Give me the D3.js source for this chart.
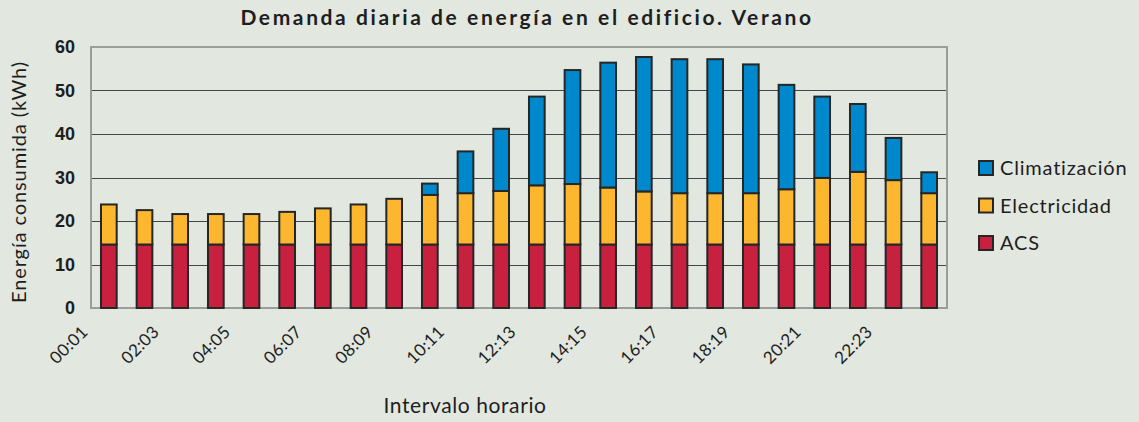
<!DOCTYPE html>
<html>
<head>
<meta charset="utf-8">
<script src="https://cdn.jsdelivr.net/npm/d3@7"></script>
<style>
  html, body { margin: 0; padding: 0; background: #E2E7E0; }
  svg { display: block; }
</style>
</head>
<body>
<div id="chart"></div>
<script>
//Datos del gráfico
const intervals = ['00:01','01:02','02:03','03:04','04:05','05:06','06:07','07:08','08:09','09:10','10:11','11:12',
    '12:13','13:14','14:15','15:16','16:17','17:18','18:19','19:20','20:21','21:22','22:23','23:24'];

const acs = [14.6,14.6,14.6,14.6,14.6,14.6,14.6,14.6,14.6,14.6,14.6,14.6,
    14.6,14.6,14.6,14.6,14.6,14.6,14.6,14.6,14.6,14.6,14.6,14.6];

const electricidad = [9.2,7.9,7.0,7.0,7.0,7.5,8.3,9.2,10.5,11.4,11.8,12.3,
    13.6,13.9,13.1,12.2,11.8,11.8,11.8,12.7,15.3,16.7,14.8,11.8];

const climatizacion = [0,0,0,0,0,0,0,0,0,2.6,9.6,14.3,
    20.4,26.2,28.7,30.9,30.8,30.8,29.6,24.0,18.7,15.6,9.7,4.8];

const yTicks = [0,10,20,30,40,50,60];

const seriesNames = ['ACS','Electricidad','Climatización'];
const legendOrder = ['Climatización','Electricidad','ACS'];

//Colores fijos
const COLOR_ACS = '#C8213F',
COLOR_ELEC = '#FDB72F',
COLOR_CLIMA = '#0088CC',
COLOR_STROKE = '#262626',
COLOR_FRAME = '#9B9D9B',
COLOR_GRID = '#454545';

const W = 1139, H = 422;
const margin = {top: 47, right: 192, bottom: 114, left: 91};
const width = W - margin.left - margin.right,
    height = H - margin.top - margin.bottom;

let rows = intervals.map(function(d, i) {
    return {name: d, 'ACS': acs[i], 'Electricidad': electricidad[i], 'Climatización': climatizacion[i]};
});

let stacked = d3.stack().keys(seriesNames)(rows);

let color = d3.scaleOrdinal()
    .domain(seriesNames)
    .range([COLOR_ACS, COLOR_ELEC, COLOR_CLIMA]);

let svg = d3.select('#chart')
    .append('svg')
        .attr('width', W)
        .attr('height', H);

let chart = svg.append('g')
    .attr('transform', 'translate(' + margin.left + ',' + margin.top + ')');

let x = d3.scaleBand()
    .domain(intervals)
    .range([0, width])
    .paddingInner(0.56)
    .paddingOuter(0.28);

let y = d3.scaleLinear()
    .domain([0, 60])
    .range([height, 0]);

//Rejilla
chart.append('g')
    .selectAll('line')
    .data(yTicks.filter(function(d) { return d > 0 && d < 60; }))
    .enter()
    .append('line')
        .attr('x1', 0)
        .attr('x2', width)
        .attr('y1', function(d) { return Math.round(y(d)) + 0.5; })
        .attr('y2', function(d) { return Math.round(y(d)) + 0.5; })
        .attr('stroke', COLOR_GRID)
        .attr('stroke-width', 1.2);

//Marco
chart.append('rect')
    .attr('x', 0)
    .attr('y', 0)
    .attr('width', width)
    .attr('height', height)
    .attr('fill', 'none')
    .attr('stroke', COLOR_FRAME)
    .attr('stroke-width', 2);

//Eje Y
let yAxis = d3.axisLeft(y).tickValues(yTicks).tickSize(0).tickPadding(16);
let gy = chart.append('g').call(yAxis);
gy.select('.domain').remove();
gy.selectAll('text')
    .attr('font-family', '"Liberation Sans", Arial, sans-serif')
    .attr('font-weight', 'bold')
    .attr('font-size', '18px')
    .attr('fill', '#1E1E1E');

//Barras
chart.append('g')
    .selectAll('g')
    .data(stacked)
    .enter()
    .append('g')
    .attr('fill', function(d) { return color(d.key); })
    .selectAll('rect')
    .data(function(d) { return d.filter(function(p) { return p[1] - p[0] > 0; }); })
    .enter()
    .append('rect')
        .attr('x', function(d) { return x(d.data.name); })
        .attr('y', function(d) { return y(d[1]); })
        .attr('width', x.bandwidth())
        .attr('height', function(d) { return y(d[0]) - y(d[1]); })
        .attr('stroke', COLOR_STROKE)
        .attr('stroke-width', 2);

//Eje X
let xAxis = d3.axisBottom(x)
    .tickValues(intervals.filter(function(d, i) { return i % 2 == 0; }))
    .tickSize(0);
let gx = chart.append('g')
    .attr('transform', 'translate(0,' + height + ')')
    .call(xAxis);
gx.select('.domain').remove();
gx.selectAll('text')
    .attr('font-family', 'Lato, sans-serif')
    .attr('font-size', '17px')
    .attr('letter-spacing', '0.3px')
    .attr('fill', '#1E1E1E')
    .attr('text-anchor', 'end')
    .attr('dy', 0)
    .attr('y', 0)
    .attr('transform', 'translate(-20,25) rotate(-45)');

//Títulos
svg.append('text')
    .attr('x', 527)
    .attr('y', 25)
    .attr('text-anchor', 'middle')
    .attr('font-family', 'Lato, sans-serif')
    .attr('font-weight', 'bold')
    .attr('font-size', '21px')
    .attr('letter-spacing', '2.6px')
    .attr('fill', '#1E1E1E')
    .text('Demanda diaria de energía en el edificio. Verano');

svg.append('text')
    .attr('transform', 'translate(26,182) rotate(-90)')
    .attr('text-anchor', 'middle')
    .attr('font-family', 'Lato, sans-serif')
    .attr('font-size', '20px')
    .attr('letter-spacing', '0.9px')
    .attr('fill', '#1E1E1E')
    .text('Energía consumida (kWh)');

svg.append('text')
    .attr('x', 465)
    .attr('y', 413)
    .attr('text-anchor', 'middle')
    .attr('font-family', 'Lato, sans-serif')
    .attr('font-size', '21px')
    .attr('letter-spacing', '0.6px')
    .attr('fill', '#1E1E1E')
    .text('Intervalo horario');

//Leyenda
let legend = svg.append('g')
    .attr('transform', 'translate(979,161)')
    .selectAll('g')
    .data(legendOrder)
    .enter()
    .append('g')
    .attr('transform', function(d, i) { return 'translate(0,' + (i * 37.5) + ')'; });

legend.append('rect')
    .attr('width', 14)
    .attr('height', 14)
    .attr('fill', function(d) { return color(d); })
    .attr('stroke', COLOR_STROKE)
    .attr('stroke-width', 2);

legend.append('text')
    .attr('x', 21)
    .attr('y', 7)
    .attr('dy', '0.36em')
    .attr('font-family', 'Lato, sans-serif')
    .attr('font-size', '20px')
    .attr('letter-spacing', '0.8px')
    .attr('fill', '#1E1E1E')
    .text(function(d) { return d; });
</script>
</body>
</html>
